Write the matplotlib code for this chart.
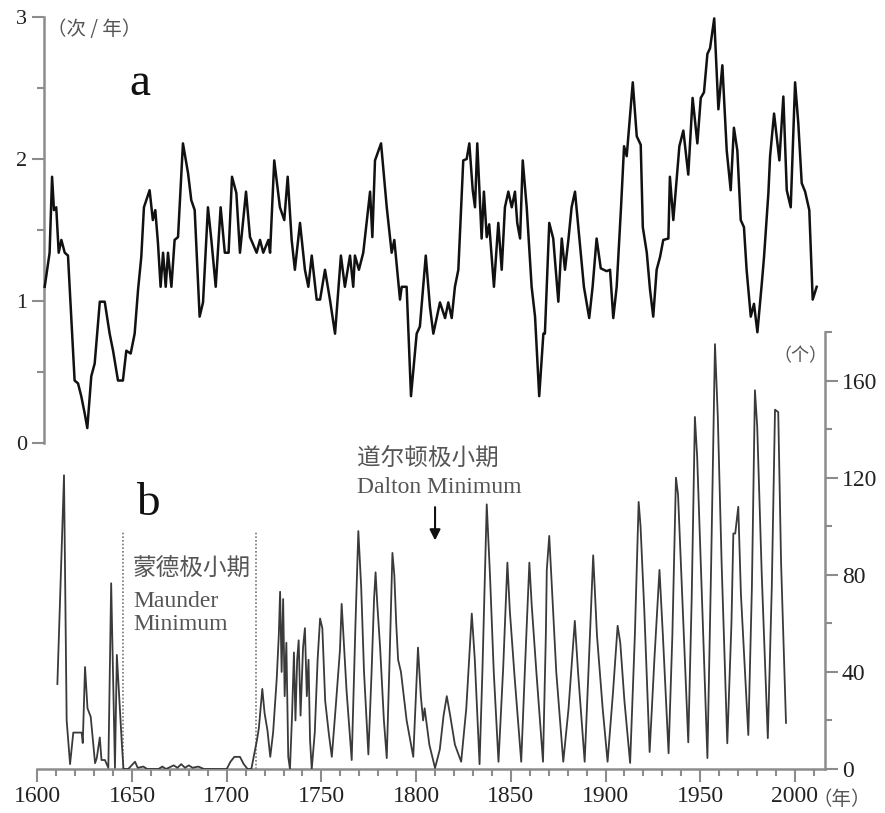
import matplotlib
matplotlib.use('Agg')
import matplotlib.pyplot as plt
from matplotlib.ticker import MultipleLocator

# ---------------- data ----------------
top_years = [1603.9, 1606.5, 1607.8, 1608.8, 1610.0, 1611.3, 1612.7, 1614.5, 1616.2, 1619.7,
             1621.5, 1623.2, 1625.0, 1626.4, 1628.5, 1630.3, 1633.0, 1635.6, 1638.2, 1640.0,
             1642.6, 1645.2, 1647.0, 1649.3, 1651.4, 1653.2, 1654.9, 1656.3, 1659.3, 1661.0,
             1662.3, 1663.7, 1665.1, 1666.4, 1667.8, 1669.0, 1670.8, 1672.5, 1674.3, 1676.9,
             1679.6, 1681.3, 1683.1, 1685.7, 1687.5, 1690.1, 1691.9, 1694.2, 1696.8, 1699.0,
             1701.0, 1702.8, 1705.1, 1707.0, 1710.2, 1712.3, 1715.8, 1717.6, 1719.3, 1722.0,
             1722.9, 1725.1, 1728.1, 1730.4, 1732.2, 1734.3, 1736.0, 1738.7, 1741.3, 1743.1,
             1744.9, 1747.5, 1749.3, 1751.9, 1754.5, 1757.2, 1760.3, 1762.4, 1765.1, 1766.8,
             1767.7, 1769.8, 1772.1, 1775.7, 1776.9, 1778.3, 1781.5, 1784.5, 1787.1, 1788.5,
             1791.5, 1792.4, 1795.0, 1797.3, 1800.3, 1802.0, 1805.1, 1807.3, 1809.1, 1812.6,
             1815.3, 1817.0, 1818.8, 1820.5, 1822.3, 1824.9, 1826.7, 1828.1, 1829.9, 1831.1,
             1832.3, 1834.6, 1835.8, 1837.3, 1838.6, 1841.1, 1843.4, 1845.2, 1846.9, 1848.7,
             1850.5, 1852.2, 1853.4, 1854.9, 1856.3, 1858.4, 1861.0, 1862.8, 1865.0, 1867.2,
             1868.0, 1870.3, 1872.4, 1875.1, 1876.9, 1878.6, 1880.4, 1882.1, 1883.9, 1886.2,
             1888.6, 1891.4, 1893.2, 1895.3, 1897.5, 1900.6, 1902.4, 1904.1, 1905.9, 1908.2,
             1909.8, 1911.2, 1914.4, 1916.5, 1918.6, 1919.7, 1921.8, 1923.5, 1925.2, 1927.0,
             1928.8, 1930.5, 1933.2, 1934.0, 1935.8, 1939.0, 1941.1, 1943.7, 1946.0, 1948.5,
             1950.3, 1952.0, 1953.8, 1955.2, 1957.4, 1959.6, 1961.7, 1964.0, 1966.1, 1967.8,
             1969.6, 1971.4, 1973.1, 1974.5, 1976.7, 1978.4, 1980.2, 1982.5, 1983.7, 1986.0,
             1986.9, 1989.0, 1991.8, 1993.9, 1995.7, 1997.8, 2000.1, 2001.8, 2003.6, 2005.4,
             2007.6, 2009.4, 2011.5]
top_vals = [1.10, 1.34, 1.875, 1.64, 1.66, 1.34, 1.43, 1.34, 1.32, 0.44,
            0.42, 0.33, 0.21, 0.105, 0.47, 0.56, 0.995, 0.995, 0.77, 0.65,
            0.44, 0.44, 0.65, 0.63, 0.77, 1.08, 1.31, 1.66, 1.78, 1.57,
            1.64, 1.41, 1.10, 1.34, 1.10, 1.34, 1.10, 1.43, 1.45, 2.11,
            1.90, 1.71, 1.64, 0.89, 0.99, 1.66, 1.43, 1.10, 1.66, 1.34,
            1.34, 1.875, 1.76, 1.34, 1.77, 1.45, 1.34, 1.43, 1.34, 1.43,
            1.34, 1.99, 1.66, 1.57, 1.875, 1.43, 1.22, 1.55, 1.22, 1.10,
            1.32, 1.01, 1.01, 1.22, 1.01, 0.77, 1.32, 1.10, 1.32, 1.10,
            1.32, 1.22, 1.34, 1.77, 1.45, 1.99, 2.11, 1.66, 1.34, 1.43,
            1.01, 1.10, 1.10, 0.33, 0.77, 0.82, 1.32, 0.96, 0.77, 0.99,
            0.88, 0.99, 0.88, 1.10, 1.22, 1.99, 2.00, 2.11, 1.78, 1.66,
            2.11, 1.44, 1.77, 1.45, 1.54, 1.10, 1.55, 1.22, 1.66, 1.77,
            1.66, 1.77, 1.55, 1.44, 1.99, 1.66, 1.10, 0.89, 0.33, 0.77,
            0.77, 1.55, 1.44, 0.995, 1.44, 1.22, 1.43, 1.66, 1.77, 1.44,
            1.10, 0.88, 1.10, 1.44, 1.23, 1.21, 1.22, 0.88, 1.10, 1.66,
            2.09, 2.02, 2.54, 2.16, 2.10, 1.52, 1.34, 1.08, 0.89, 1.22,
            1.31, 1.43, 1.44, 1.875, 1.57, 2.09, 2.20, 1.89, 2.43, 2.11,
            2.43, 2.47, 2.74, 2.78, 2.99, 2.35, 2.66, 2.06, 1.78, 2.22,
            2.06, 1.57, 1.52, 1.22, 0.89, 0.98, 0.78, 1.12, 1.31, 1.76,
            2.02, 2.32, 1.99, 2.44, 1.78, 1.66, 2.54, 2.25, 1.83, 1.77,
            1.64, 1.01, 1.10]

bot_years = [1610.6, 1614.1, 1615.5, 1617.3, 1619.0, 1623.4, 1624.0, 1625.2, 1626.5, 1628.2,
             1630.5, 1631.4, 1633.0, 1633.9, 1635.7, 1637.5, 1639.0, 1641.0, 1642.0, 1644.6,
             1645.5, 1648.0, 1651.6, 1653.0, 1656.0, 1658.0, 1664.0, 1666.0, 1668.0, 1672.0,
             1674.0, 1676.0, 1678.0, 1680.0, 1682.0, 1685.0, 1688.0, 1700.0, 1702.0, 1704.0,
             1707.0, 1709.0, 1711.0, 1713.0, 1716.0, 1717.0, 1718.8, 1720.0, 1721.5, 1723.0,
             1724.5, 1726.4, 1727.5, 1728.2, 1729.0, 1729.8, 1730.6, 1731.5, 1732.5, 1733.4,
             1734.5, 1735.5, 1736.3, 1737.2, 1738.0, 1739.0, 1740.3, 1741.3, 1742.3, 1743.2,
             1744.0, 1744.9, 1746.5, 1748.0, 1749.3, 1750.5, 1752.0, 1754.0, 1755.5, 1757.5,
             1759.8, 1760.7, 1762.0, 1763.3, 1766.0, 1768.0, 1769.5, 1771.0, 1772.5, 1774.8,
             1776.5, 1777.8, 1778.6, 1779.5, 1781.0, 1783.0, 1784.5, 1786.0, 1787.5, 1788.5,
             1789.5, 1790.5, 1792.0, 1795.0, 1798.5, 1801.0, 1802.5, 1803.7, 1804.5, 1807.0,
             1810.0, 1812.5, 1814.5, 1816.2, 1818.0, 1820.5, 1823.8, 1826.5, 1829.4, 1831.0,
             1833.5, 1835.0, 1837.3, 1839.0, 1841.0, 1843.5, 1846.0, 1848.2, 1849.5, 1852.0,
             1855.5, 1857.5, 1859.8, 1861.0, 1863.5, 1867.0, 1868.5, 1869.0, 1870.3, 1871.5,
             1874.0, 1877.7, 1880.5, 1883.8, 1885.5, 1889.0, 1891.0, 1893.5, 1895.5, 1898.5,
             1901.1, 1904.0, 1906.4, 1907.8, 1910.0, 1913.0, 1915.5, 1917.5, 1918.5, 1920.5,
             1923.3, 1925.8, 1928.5, 1930.3, 1933.3, 1935.3, 1937.2, 1938.3, 1940.3, 1943.7,
             1945.5, 1947.2, 1948.4, 1950.5, 1953.8, 1955.8, 1957.8, 1959.3, 1961.3, 1964.3,
             1966.5, 1967.5, 1968.5, 1970.1, 1971.5, 1973.3, 1975.4, 1977.3, 1978.9, 1980.1,
             1982.5, 1985.7, 1987.8, 1989.5, 1991.2, 1992.7, 1995.3]
bot_vals = [35, 121, 20, 2, 15, 15, 10.7, 42, 25, 21.5,
            2.4, 4.5, 13, 3.7, 3.7, 0.5, 76.5, 0.5, 47, 11,
            0, 0, 3, 0.5, 1.0, 0, 0, 1, 0, 1.5,
            0.5, 2, 0.5, 1.5, 0.5, 1, 0, 0, 3, 5,
            5, 2, 0, 0, 12, 17, 33, 23, 16, 5,
            15, 37, 55, 73, 40, 70, 30, 52, 5, 0,
            22, 48, 20, 45, 53, 22, 50, 58, 30, 45,
            12, 0, 15, 45, 62, 58, 28, 14, 5, 25,
            49, 68, 50, 32, 3.7, 60, 98, 75, 40, 6,
            40, 70, 81, 68, 50, 20, 4.5, 45, 89, 80,
            60, 45, 40, 20, 5, 50, 30, 20, 25, 10,
            0.4, 8, 22, 30, 22, 10, 3, 25, 64, 45,
            2, 40, 109, 80, 40, 3, 42, 85, 65, 38,
            3, 42, 85, 68, 40, 3, 55, 82, 96, 78,
            40, 3, 25, 61, 40, 3, 40, 88, 55, 25,
            3, 32, 59, 52, 28, 2.5, 55, 110, 100, 65,
            7, 45, 82, 55, 6.5, 55, 120, 113, 75, 11,
            70, 145, 128.5, 80, 4.5, 85, 175, 145, 85, 10.6,
            60, 97, 97, 108, 72, 45, 14, 75, 156, 141,
            80, 12.7, 75, 148, 147, 85, 19]

x_ticks = [1600, 1650, 1700, 1750, 1800, 1850, 1900, 1950, 2000]
top_ticks = [0, 1, 2, 3]
right_ticks = [0, 40, 80, 120, 160]
maunder = (1645, 1715.5)
maunder_top = 98
dalton_year = 1810

# ---------------- figure ----------------
W, H = 885, 813
plt.rcParams['font.family'] = ['Liberation Serif', 'Noto Sans CJK SC']
fig = plt.figure(figsize=(W / 100, H / 100), dpi=100)

def fx(x):
    return x / W

def fy(y):
    return 1 - y / H

X0, X1 = 37.3, 825.0
PXY = 1.894
xmin, xmax = 1600, 1600 + (X1 - X0) / PXY
spine_col = '#8c8c8c'
text_grey = '#555555'

# bottom panel (b)
axb = fig.add_axes([fx(X0), fy(769), (X1 - X0) / W, (769 - 332) / H])
axb.patch.set_alpha(0)
axb.set_xlim(xmin, xmax)
axb.set_ylim(0, 180)
axb.plot(bot_years, bot_vals, color='#3a3a3a', lw=1.3, zorder=3)
for s in ['left', 'top']:
    axb.spines[s].set_visible(False)
for s in ['right', 'bottom']:
    axb.spines[s].set_color(spine_col)
    axb.spines[s].set_linewidth(1.8)
axb.yaxis.tick_right()
axb.set_yticks(right_ticks)
axb.yaxis.set_minor_locator(MultipleLocator(20))
axb.set_xticks(x_ticks)
axb.set_xticklabels([str(t) for t in x_ticks])
axb.xaxis.set_minor_locator(MultipleLocator(10))
axb.tick_params(axis='both', which='major', length=9, width=1.5, color=spine_col,
                labelsize=17, labelcolor='#222222', pad=3)
axb.tick_params(axis='both', which='minor', length=5, width=1.5, color=spine_col)

for yr in maunder:
    axb.plot([yr, yr], [0, maunder_top], ls=(0, (1, 1.2)), color='#777777', lw=1.2, zorder=2)

axb.annotate('', xy=(dalton_year, 93), xytext=(dalton_year, 109),
             arrowprops=dict(arrowstyle='-|>', color='#111111', lw=1.5, mutation_scale=16))

# top panel (a)
axt = fig.add_axes([fx(X0), fy(443), (X1 - X0) / W, 426 / H])
axt.patch.set_alpha(0)
axt.set_xlim(xmin, xmax)
axt.set_ylim(0, 3)
axt.plot(top_years, top_vals, color='#111111', lw=1.8, zorder=3)
for s in ['right', 'top', 'bottom']:
    axt.spines[s].set_visible(False)
axt.spines['left'].set_position(('data', 1603.5))
axt.spines['left'].set_color(spine_col)
axt.spines['left'].set_linewidth(1.8)
axt.set_xticks([])
axt.set_yticks(top_ticks)
axt.yaxis.set_minor_locator(MultipleLocator(0.5))
axt.tick_params(axis='y', which='major', length=9, width=1.5, color=spine_col,
                labelsize=16, labelcolor='#222222', pad=3)
axt.tick_params(axis='y', which='minor', length=5, width=1.5, color=spine_col)

# texts
cjk = ['Noto Sans CJK SC', 'DejaVu Sans']
fig.text(fx(47), fy(30), '（次 / 年）', family=cjk, fontsize=14, color=text_grey, va='center', ha='left')
fig.text(fx(773), fy(356), '（个）', family=cjk, fontsize=13, color=text_grey, va='center', ha='left')
fig.text(fx(813), fy(799), '（年）', family=cjk, fontsize=14, color=text_grey, va='center', ha='left')
fig.text(fx(129), fy(95), 'a', fontsize=34, color='#111111', va='baseline', ha='left')
fig.text(fx(136), fy(515), 'b', fontsize=34, color='#111111', va='baseline', ha='left')

fig.text(fx(133), fy(568), '蒙德极小期', family=cjk, fontsize=17, color=text_grey, va='center', ha='left')
fig.text(fx(133), fy(607), 'Maunder', fontsize=17, color=text_grey, va='baseline', ha='left')
fig.text(fx(133), fy(630), 'Minimum', fontsize=17, color=text_grey, va='baseline', ha='left')
fig.text(fx(357), fy(459), '道尔顿极小期', family=cjk, fontsize=17, color=text_grey, va='center', ha='left')
fig.text(fx(357), fy(493), 'Dalton Minimum', fontsize=17, color=text_grey, va='baseline', ha='left')

fig.savefig('out.png', dpi=100)
